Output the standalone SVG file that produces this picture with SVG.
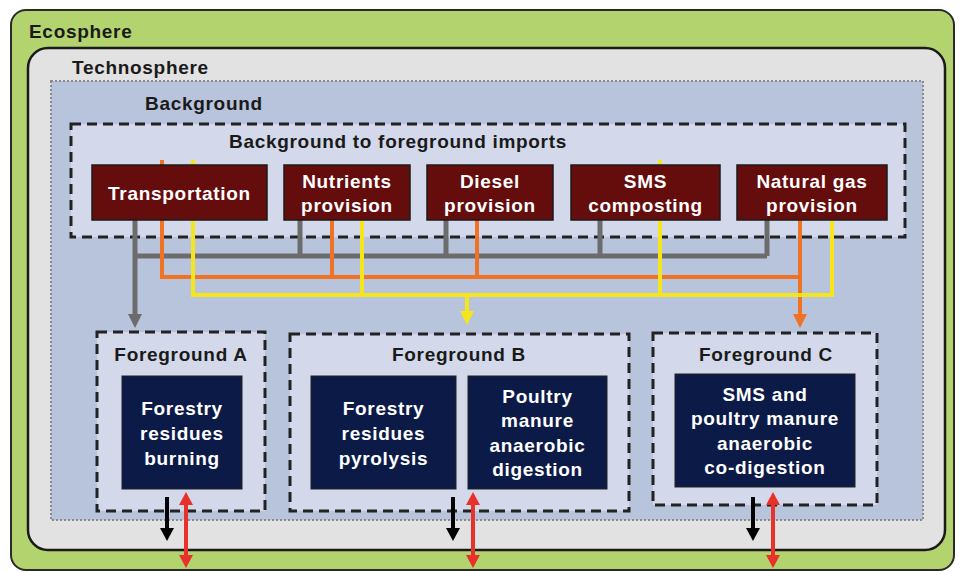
<svg xmlns="http://www.w3.org/2000/svg" width="961" height="572" viewBox="0 0 961 572">
<style>
text{font-family:"Liberation Sans",Arial,sans-serif;font-weight:bold;font-size:19px;letter-spacing:0.7px}
.hd{fill:#1a1a1a}
.wt{fill:#ffffff;text-anchor:middle}
.ct{text-anchor:middle}
.dash{fill:#d3d9ea;stroke:#222;stroke-width:3;stroke-dasharray:10 6}
.mar{fill:#650c0c;stroke:#1a1a1a;stroke-width:1.5}
.nav{fill:#0c1a47;stroke:#222;stroke-width:1}
.g{fill:none;stroke:#6c6c6c;stroke-width:5}
.o{fill:none;stroke:#f07225;stroke-width:4}
.y{fill:none;stroke:#f5e51c;stroke-width:4}
.k{fill:none;stroke:#000;stroke-width:4}
.r{fill:none;stroke:#e8312b;stroke-width:4}
</style>
<defs>
<marker id="ag" markerUnits="userSpaceOnUse" markerWidth="16" markerHeight="14" refX="2" refY="7" orient="auto"><path d="M0,0 L14,7 L0,14 z" fill="#6c6c6c"/></marker>
<marker id="ao" markerUnits="userSpaceOnUse" markerWidth="16" markerHeight="14" refX="2" refY="7" orient="auto"><path d="M0,0 L14,7 L0,14 z" fill="#f07225"/></marker>
<marker id="ay" markerUnits="userSpaceOnUse" markerWidth="16" markerHeight="14" refX="2" refY="7" orient="auto"><path d="M0,0 L14,7 L0,14 z" fill="#f5e51c"/></marker>
<marker id="ak" markerUnits="userSpaceOnUse" markerWidth="16" markerHeight="14" refX="2" refY="7" orient="auto"><path d="M0,0 L13,7 L0,14 z" fill="#000"/></marker>
<marker id="ar" markerUnits="userSpaceOnUse" markerWidth="16" markerHeight="14" refX="2" refY="7" orient="auto-start-reverse"><path d="M0,0 L13,7 L0,14 z" fill="#e8312b"/></marker>
</defs>
<rect width="961" height="572" fill="#ffffff"/>
<g id="ecosphere">
<rect x="11" y="10" width="943" height="560" rx="15" fill="#b3d36f" stroke="#2a2a2a" stroke-width="2"/>
<text class="hd" x="29" y="38">Ecosphere</text>
</g>
<g id="technosphere">
<rect x="28" y="48" width="917" height="502" rx="20" fill="#e2e2e2" stroke="#1a1a1a" stroke-width="2.5"/>
<text class="hd" x="72" y="74">Technosphere</text>
</g>
<g id="background">
<rect x="51" y="81" width="872" height="439" fill="#b8c3dc" stroke="#8a8a8a" stroke-width="2" stroke-dasharray="2 2"/>
<text class="hd" x="145" y="110">Background</text>
</g>
<g id="imports">
<rect class="dash" x="71" y="124" width="834" height="113"/>
<text class="hd ct" x="398" y="148">Background to foreground imports</text>
</g>
<g id="fgA-box">
<rect class="dash" x="97" y="332" width="168" height="179"/>
<text class="hd ct" x="181" y="361">Foreground A</text>
</g>
<g id="fgB-box">
<rect class="dash" x="290" y="334" width="339" height="177"/>
<text class="hd ct" x="459" y="361">Foreground B</text>
</g>
<g id="fgC-box">
<rect class="dash" x="653" y="333" width="224" height="172"/>
<text class="hd ct" x="766" y="361">Foreground C</text>
</g>
<g id="connectors">
<path class="g" d="M135,220 V316" marker-end="url(#ag)"/>
<path class="g" d="M135,256 H767 M300,218 V256 M446,218 V256 M600,218 V256 M767,218 V256"/>
<path class="o" d="M162,160 V277 H800 M332,218 V277 M477,218 V277"/>
<path class="o" d="M800,218 V316" marker-end="url(#ao)"/>
<path class="y" d="M193,160 V295 H832 V218 M362,218 V295 M660,160 V295"/>
<path class="y" d="M467,295 V313" marker-end="url(#ay)"/>
<path class="k" d="M167,497 V530" marker-end="url(#ak)"/>
<path class="r" d="M186,503 V557" marker-start="url(#ar)" marker-end="url(#ar)"/>
<path class="k" d="M453,497 V530" marker-end="url(#ak)"/>
<path class="r" d="M473,503 V557" marker-start="url(#ar)" marker-end="url(#ar)"/>
<path class="k" d="M753,497 V530" marker-end="url(#ak)"/>
<path class="r" d="M773,503 V557" marker-start="url(#ar)" marker-end="url(#ar)"/>
</g>
<g id="transportation">
<rect class="mar" x="92" y="165" width="175" height="55"/>
<text class="wt" x="179.5" y="200">Transportation</text>
</g>
<g id="nutrients">
<rect class="mar" x="284" y="165" width="126" height="55"/>
<text class="wt" x="347" y="188">Nutrients</text>
<text class="wt" x="347" y="212">provision</text>
</g>
<g id="diesel">
<rect class="mar" x="427" y="165" width="126" height="55"/>
<text class="wt" x="490" y="188">Diesel</text>
<text class="wt" x="490" y="212">provision</text>
</g>
<g id="sms">
<rect class="mar" x="571" y="165" width="149" height="55"/>
<text class="wt" x="645.5" y="188">SMS</text>
<text class="wt" x="645.5" y="212">composting</text>
</g>
<g id="natgas">
<rect class="mar" x="737" y="165" width="150" height="55"/>
<text class="wt" x="812" y="188">Natural gas</text>
<text class="wt" x="812" y="212">provision</text>
</g>
<g id="burning">
<rect class="nav" x="122" y="376" width="120" height="113"/>
<text class="wt" x="182" y="415">Forestry</text>
<text class="wt" x="182" y="440">residues</text>
<text class="wt" x="182" y="465">burning</text>
</g>
<g id="pyrolysis">
<rect class="nav" x="311" y="376" width="145" height="113"/>
<text class="wt" x="383.5" y="415">Forestry</text>
<text class="wt" x="383.5" y="440">residues</text>
<text class="wt" x="383.5" y="465">pyrolysis</text>
</g>
<g id="poultry">
<rect class="nav" x="468" y="376" width="139" height="113"/>
<text class="wt" x="537.5" y="403">Poultry</text>
<text class="wt" x="537.5" y="427">manure</text>
<text class="wt" x="537.5" y="452">anaerobic</text>
<text class="wt" x="537.5" y="476">digestion</text>
</g>
<g id="codigestion">
<rect class="nav" x="675" y="374" width="180" height="113"/>
<text class="wt" x="765" y="401">SMS and</text>
<text class="wt" x="765" y="425">poultry manure</text>
<text class="wt" x="765" y="450">anaerobic</text>
<text class="wt" x="765" y="474">co-digestion</text>
</g>
</svg>
